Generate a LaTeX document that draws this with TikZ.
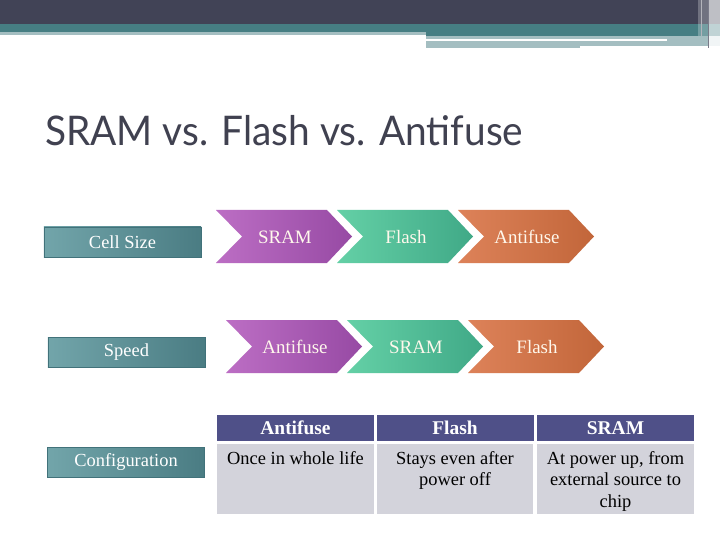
\documentclass[tikz,border=0pt]{standalone}
\usepackage{fontspec}
\setmainfont{Liberation Serif}
\newfontfamily\titlefont{Lato}
\definecolor{topdark}{HTML}{414356}
\definecolor{topteal}{HTML}{467E83}
\definecolor{toplight}{HTML}{A4BEC1}
\definecolor{sideleft}{HTML}{72A5AA}
\definecolor{sideright}{HTML}{4A7C83}
\definecolor{sideborder}{HTML}{41727A}
\definecolor{purpleleft}{HTML}{BC6EC4}
\definecolor{purpleright}{HTML}{974AA4}
\definecolor{greenleft}{HTML}{64D0A6}
\definecolor{greenright}{HTML}{40A987}
\definecolor{orangeleft}{HTML}{DD8259}
\definecolor{orangeright}{HTML}{C2663A}
\definecolor{chevwhite}{HTML}{FFF8EC}
\definecolor{tablehead}{HTML}{4F5088}
\definecolor{tablebody}{HTML}{D3D3DB}
\definecolor{titlegrey}{HTML}{404150}
\begin{document}
\begin{tikzpicture}[x=1bp,y=-1bp,
    chevtext/.style={anchor=base,inner sep=0pt,text=chevwhite,font=\fontsize{19}{22}\selectfont},
    sidebox/.style={draw=sideborder,line width=0.6bp,left color=sideleft,right color=sideright,
      minimum width=157bp,minimum height=30bp,inner sep=0pt,text=white,font=\fontsize{18.5}{22}\selectfont},
    headcell/.style={fill=tablehead,minimum width=157bp,minimum height=26bp,inner sep=0pt,
      text=white,font=\bfseries\fontsize{19.5}{22}\selectfont},
    bodytext/.style={anchor=north,inner sep=0pt,align=center,text=black,font=\fontsize{18.5}{21.5}\selectfont}]
  \useasboundingbox (0,0) rectangle (720,540);
  \fill[white] (0,0) rectangle (720,540);

  % Drawing top band
  \fill[topdark] (0,0) rectangle (720,24);
  \fill[topteal] (0,24) rectangle (720,32);
  \fill[topteal] (426,32) rectangle (720,36);
  \fill[toplight] (0,32) rectangle (426,35);
  \fill[toplight] (426,36) rectangle (708,46);
  \fill[toplight] (426,46) rectangle (580,48);
  \fill[white] (426,39) rectangle (667,41);
  \fill[white, opacity=0.25] (698,0) rectangle (720,36);
  \fill[white, opacity=0.55] (709,0) rectangle (720,36);
  \fill[white!85!toplight] (709,36) rectangle (720,46);
  \draw[line width=1bp, topdark!70] (708,0) -- (708,48);
  \draw[line width=0.6bp, white!60!topdark] (701,0) -- (701,36);

  % Drawing title
  \node[anchor=base west, inner sep=0pt, text=titlegrey] (title) at (45,146)
    {\resizebox{478bp}{\height}{\titlefont\fontsize{41}{41}\selectfont SRAM vs. Flash vs. Antifuse}};

  % Drawing row Cell Size
  \node[sidebox] (cellsize) at (122.5,242) {Cell Size};
  \shade[left color=purpleleft, right color=purpleright] (216,210) -- (327,210) -- (352,236.5) -- (327,263) -- (216,263) -- (242,236.5) -- cycle;
  \shade[left color=greenleft, right color=greenright] (337,210) -- (448,210) -- (473,236.5) -- (448,263) -- (337,263) -- (363,236.5) -- cycle;
  \shade[left color=orangeleft, right color=orangeright] (458,210) -- (569,210) -- (594,236.5) -- (569,263) -- (458,263) -- (484,236.5) -- cycle;
  \node[chevtext] (sizesram) at (285,243.5) {SRAM};
  \node[chevtext] (sizeflash) at (406,243.5) {Flash};
  \node[chevtext] (sizeanti) at (527,243.5) {Antifuse};

  % Drawing row Speed
  \node[sidebox] (speed) at (126.5,352) {Speed};
  \shade[left color=purpleleft, right color=purpleright] (226,320) -- (337,320) -- (362,346.5) -- (337,373) -- (226,373) -- (252,346.5) -- cycle;
  \shade[left color=greenleft, right color=greenright] (347,320) -- (458,320) -- (483,346.5) -- (458,373) -- (347,373) -- (373,346.5) -- cycle;
  \shade[left color=orangeleft, right color=orangeright] (468,320) -- (579,320) -- (604,346.5) -- (579,373) -- (468,373) -- (494,346.5) -- cycle;
  \node[chevtext] (speedanti) at (295,353) {Antifuse};
  \node[chevtext] (speedsram) at (416,353) {SRAM};
  \node[chevtext] (speedflash) at (537,353) {Flash};

  % Drawing row Configuration
  \node[sidebox] (config) at (126,462) {Configuration};
  \node[headcell] (headanti) at (295.5,428) {Antifuse};
  \node[headcell] (headflash) at (455,428) {Flash};
  \node[headcell] (headsram) at (615.5,428) {SRAM};
  \fill[tablebody] (217,444) rectangle (374,514);
  \fill[tablebody] (377,444) rectangle (533,514);
  \fill[tablebody] (537,444) rectangle (694,514);
  \node[bodytext] (bodyanti) at (295.5,451) {Once in whole life};
  \node[bodytext] (bodyflash) at (455,451) {Stays even after\\power off};
  \node[bodytext] (bodysram) at (615.5,451) {At power up, from\\external source to\\chip};
\end{tikzpicture}
\end{document}
